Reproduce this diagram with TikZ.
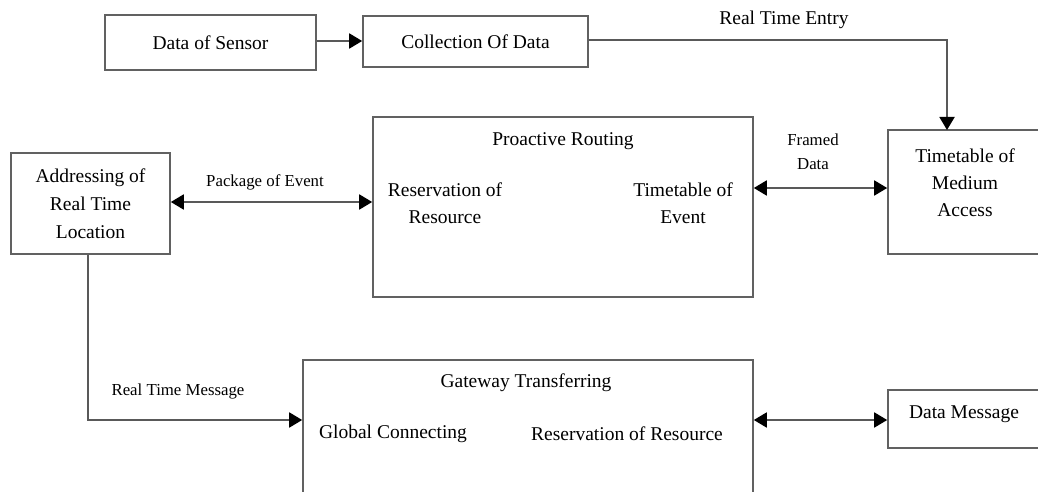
\documentclass[tikz,border=0pt]{standalone}
\usepackage{fontspec}
\setmainfont{Liberation Serif}
\usetikzlibrary{arrows.meta}
\begin{document}
\begin{tikzpicture}[x=1pt,y=-1pt,
  box/.style={draw=black!62,line width=1.6pt,inner sep=0pt,font=\fontsize{19.5}{28}\selectfont,align=center},
  txt/.style={inner sep=0pt,font=\fontsize{19.5}{27}\selectfont,align=center},
  lbl/.style={inner sep=0pt,font=\fontsize{16.8}{24}\selectfont,align=center},
  conn/.style={draw=black!65,line width=1.8pt,-{Triangle[length=13pt,width=15pt,color=black]}},
  bconn/.style={draw=black!65,line width=1.8pt,{Triangle[length=13pt,width=15pt,color=black]}-{Triangle[length=13pt,width=15pt,color=black]}},
  plain/.style={draw=black!65,line width=1.8pt}]
\useasboundingbox (0,0) rectangle (1038,492);
\clip (0,0) rectangle (1038,492);
\fill[white] (0,0) rectangle (1038,492);
% boxes
\node[box,minimum width=211pt,minimum height=55pt] (sensor) at (210.5,42.5) {Data of Sensor};
\node[box,minimum width=225pt,minimum height=51pt] (collect) at (475.5,41.5) {Collection Of Data};
\node[box,minimum width=380pt,minimum height=180pt] (proactive) at (563,207) {};
\node[box,minimum width=159pt,minimum height=101pt] (addr) at (90.5,203.5) {Addressing of\\Real Time\\Location};
\node[box,minimum width=160pt,minimum height=124pt] (tma) at (968,192) {};
\node[box,minimum width=450pt,minimum height=140pt] (gateway) at (528,430) {};
\node[box,minimum width=160pt,minimum height=58pt] (dm) at (968,419) {};
% texts in boxes
\node[txt] (tmaT) at (965,183) {Timetable of\\Medium\\Access};
\node[txt] (dmT) at (964,414) {Data Message};
\node[txt] (proT) at (563,141) {Proactive Routing};
\node[txt] (resA) at (445,203) {Reservation of\\Resource};
\node[txt] (tev) at (683,203) {Timetable of\\Event};
\node[txt] (gwT) at (526,383) {Gateway Transferring};
\node[txt] (glob) at (393,434) {Global Connecting};
\node[txt] (resB) at (627,434) {Reservation of Resource};
% labels
\node[txt] (rte) at (784,20) {Real Time Entry};
\node[lbl] (poe) at (265,182) {Package of Event};
\node[lbl] (fd) at (813,152) {Framed\\Data};
\node[lbl] (rtm) at (178,391) {Real Time Message};
% connectors
\coordinate (tmaIn) at (947,130);
\draw[conn] (sensor.east |- 0,41) -- (collect.west |- 0,41);
\draw[conn] (collect.east |- 0,40) -| (tmaIn);
\draw[bconn] (addr.east |- 0,202) -- (proactive.west |- 0,202);
\draw[bconn] (proactive.east |- 0,188) -- (tma.west |- 0,188);
\draw[conn] (addr.south -| 88,0) |- (gateway.west |- 0,420);
\draw[bconn] (gateway.east |- 0,420) -- (dm.west |- 0,420);
\end{tikzpicture}
\end{document}
